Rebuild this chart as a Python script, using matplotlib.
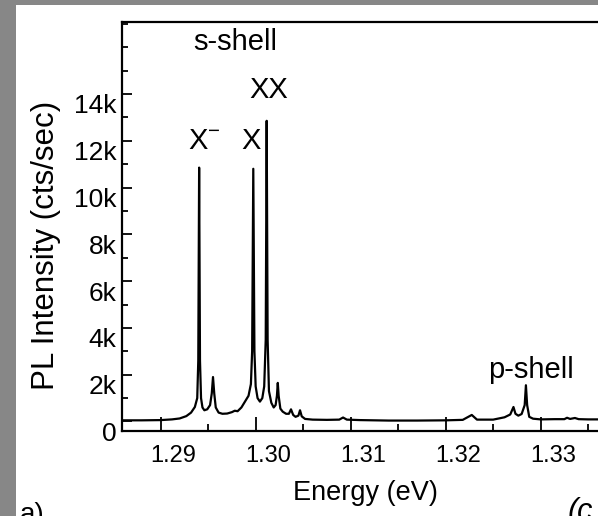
import matplotlib
matplotlib.use("Agg")
import matplotlib.pyplot as plt
import matplotlib.transforms as mtransforms
from matplotlib.patches import Rectangle
from matplotlib.ticker import MultipleLocator, FuncFormatter

plt.rcParams['font.family'] = ['Liberation Sans', 'DejaVu Sans']
plt.rcParams['mathtext.fontset'] = 'custom'
plt.rcParams['mathtext.rm'] = 'Liberation Sans'
plt.rcParams['mathtext.default'] = 'regular'

# PL spectrum (eV, cts/sec)
energy = [1.2859, 1.2880, 1.2900, 1.2912, 1.2920, 1.2927, 1.2932, 1.2936, 1.29385, 1.29396,
          1.29405, 1.29414, 1.29425, 1.2944, 1.2946, 1.2949, 1.2952, 1.29538, 1.29551, 1.29564,
          1.2958, 1.2961, 1.2965, 1.2970, 1.2975, 1.2978, 1.2981, 1.2985, 1.2988, 1.29925,
          1.29950, 1.29963, 1.29975, 1.29987, 1.30000, 1.30020, 1.30045, 1.30070, 1.30090, 1.30106,
          1.30116, 1.30126, 1.30140, 1.30165, 1.30190, 1.30210, 1.30224, 1.30233, 1.30242, 1.30260,
          1.30285, 1.30320, 1.30350, 1.30372, 1.30395, 1.30420, 1.30450, 1.30467, 1.30485, 1.3052,
          1.3060, 1.3075, 1.3088, 1.3092, 1.3096, 1.3110, 1.3140, 1.3170, 1.3200, 1.3218,
          1.32275, 1.3233, 1.3250, 1.3262, 1.3268, 1.32714, 1.32735, 1.32765, 1.3280, 1.32832,
          1.32845, 1.32858, 1.3288, 1.3292, 1.3300, 1.3315, 1.3325, 1.33278, 1.3331, 1.33361,
          1.3340, 1.3350, 1.3367]
intensity = [50, 50, 60, 90, 130, 230, 380, 620, 1000, 2600,
             10850, 2600, 1000, 600, 480, 520, 700, 1200, 1900, 1200,
             600, 380, 330, 340, 400, 460, 440, 600, 800, 1100,
             1600, 3000, 10800, 3000, 1500, 1000, 850, 1000, 1500, 3500,
             12850, 3500, 1300, 800, 600, 700, 1100, 1650, 1100, 550,
             420, 330, 330, 520, 280, 200, 250, 480, 220, 110,
             80, 70, 80, 170, 80, 60, 40, 40, 50, 70,
             280, 80, 80, 180, 300, 620, 330, 250, 320, 700,
             1550, 700, 200, 120, 90, 100, 100, 160, 110, 150,
             100, 90, 90]

x_ticks = [1.29, 1.30, 1.31, 1.32, 1.33]
y_ticks = [0, 2000, 4000, 6000, 8000, 10000, 12000, 14000]

# peak labels: (text, energy, intensity)
peak_labels = [("s-shell", 1.29782, 15876),
               ("XX", 1.30140, 14167),
               ("X$^{-}$", 1.29455, 11987),
               ("X", 1.29956, 11987),
               ("p-shell", 1.32898, 1859)]

fig = plt.figure(figsize=(5.98, 5.16), dpi=100)
fig.patch.set_facecolor("white")

# grey screen border, left and top
fig.patches.append(Rectangle((0, 0), 16 / 598, 1, transform=fig.transFigure,
                             facecolor="#878787", edgecolor="none", zorder=0))
fig.patches.append(Rectangle((0, 1 - 5 / 516), 1, 5 / 516, transform=fig.transFigure,
                             facecolor="#878787", edgecolor="none", zorder=0))

ax = fig.add_axes([122 / 598, 85 / 516, 482 / 598, 409 / 516])
ax.plot(energy, intensity, color="black", lw=1.6)

ax.set_xlim(1.28593, 1.33667)
ax.set_ylim(-406, 17073)

ax.set_xticks(x_ticks)
ax.xaxis.set_major_formatter(FuncFormatter(lambda v, p: "%.2f" % v))
ax.xaxis.set_minor_locator(MultipleLocator(0.005))
ax.set_yticks(y_ticks)
ax.yaxis.set_major_formatter(FuncFormatter(lambda v, p: "0" if v == 0 else "%dk" % (v / 1000)))
ax.yaxis.set_minor_locator(MultipleLocator(1000))

ax.tick_params(axis="both", which="both", direction="in", width=1.3, colors="black")
ax.tick_params(axis="x", which="major", length=10, pad=10, labelsize=17)
ax.tick_params(axis="x", which="minor", length=5)
ax.tick_params(axis="y", which="major", length=7, pad=4, labelsize=19)
ax.tick_params(axis="y", which="minor", length=4)
for s in ax.spines.values():
    s.set_linewidth(1.6)

# tick labels sit a little off their ticks in the original
dx = mtransforms.ScaledTranslation(13 / 100, 0, fig.dpi_scale_trans)
dy = mtransforms.ScaledTranslation(0, -10 / 100, fig.dpi_scale_trans)
for lab in ax.get_xticklabels():
    lab.set_transform(lab.get_transform() + dx)
for lab in ax.get_yticklabels():
    lab.set_transform(lab.get_transform() + dy)

ax.set_xlabel("Energy (eV)", fontsize=19.5)
ax.xaxis.set_label_coords((365 - 122) / 482, -(493 - 431) / 409)
ax.xaxis.label.set_va("center")
fig.text(46 / 598, 1 - 245 / 516, "PL Intensity (cts/sec)", rotation=90,
         fontsize=22.5, ha="center", va="center")

for txt, e, i in peak_labels:
    va = "baseline" if "shell" in txt else "center"
    ax.text(e, i, txt, fontsize=21, ha="center", va=va)

# panel letters cut by the bottom edge, as in the screenshot
fig.text(20 / 598, -6 / 516, "a)", fontsize=20, ha="left", va="baseline")
fig.text(568 / 598, -4 / 516, "(c", fontsize=22, style="italic", ha="left", va="baseline")

fig.savefig("out.png", dpi=100)
